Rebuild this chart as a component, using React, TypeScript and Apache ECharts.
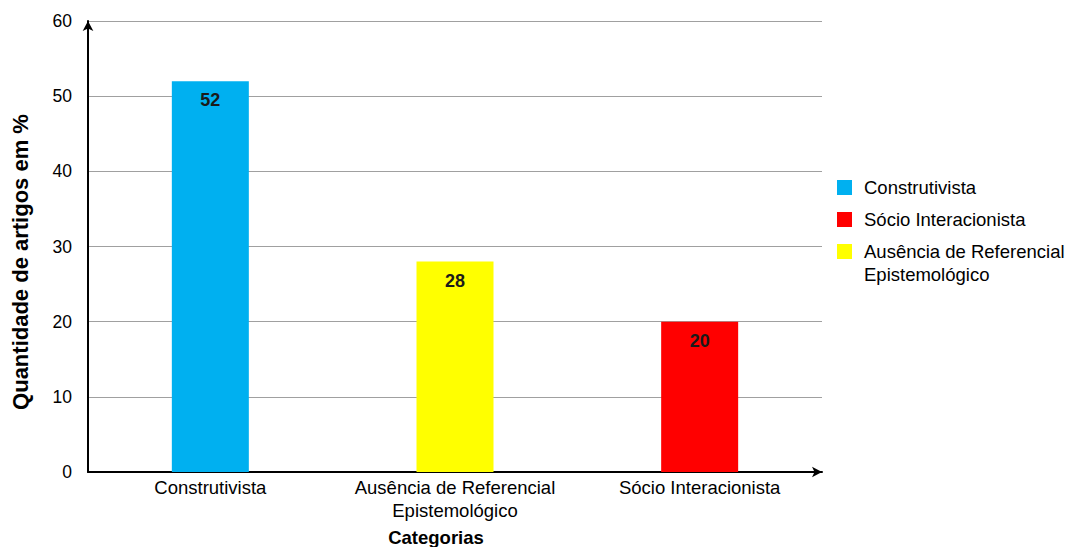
import React, { useEffect, useRef } from "react";
import * as echarts from "echarts";

// Categories along the x axis, with their percentage of articles
const categories = [
  "Construtivista",
  "Ausência de Referencial Epistemológico",
  "Sócio Interacionista",
];
const values = [52, 28, 20];
const colors = ["#00B0F0", "#FFFF00", "#FF0000"];

// Order in which the legend lists the categories
const legendOrder = [0, 2, 1];

const yTicks = { min: 0, max: 60, interval: 10 };

const FONT = "Liberation Sans, Arial, sans-serif";

const breakLabel = (s: string) => s.replace("Referencial ", "Referencial\n");

export default function App() {
  const ref = useRef<HTMLDivElement>(null);

  useEffect(() => {
    if (!ref.current) return;
    const chart = echarts.init(ref.current, null, { renderer: "svg" });

    const series = categories.map((name, i) => ({
      name,
      type: "bar",
      stack: "total",
      barWidth: 77,
      data: categories.map((_, j) => (j === i ? values[i] : "-")),
      itemStyle: { color: colors[i] },
      label: {
        show: true,
        position: "insideTop",
        distance: 10,
        color: "#1a1a1a",
        fontFamily: FONT,
        fontSize: 18,
        fontWeight: "bold",
      },
    }));

    // Legend: coloured squares with the category names beside them
    const legendCenters = [187, 219, 251];
    const legendItems: any[] = [];
    legendOrder.forEach((idx, k) => {
      legendItems.push({
        type: "rect",
        left: 837,
        top: legendCenters[k] - 7,
        shape: { width: 15, height: 15 },
        style: { fill: colors[idx] },
      });
      legendItems.push({
        type: "text",
        left: 864,
        top: legendCenters[k] - 11.5,
        style: {
          text: breakLabel(categories[idx]),
          font: `18.5px ${FONT}`,
          fill: "#000",
          lineHeight: 23,
        },
      });
    });

    chart.setOption({
      animation: false,
      grid: { left: 88, right: 251, top: 21, bottom: 75, containLabel: false },
      xAxis: {
        type: "category",
        data: categories,
        axisLine: {
          show: true,
          symbol: ["none", "arrow"],
          symbolSize: [8, 10],
          lineStyle: { color: "#000", width: 2 },
        },
        axisTick: { show: false },
        axisLabel: {
          interval: 0,
          margin: 4,
          color: "#000",
          fontFamily: FONT,
          fontSize: 18.5,
          lineHeight: 23,
          formatter: (v: string) => breakLabel(v),
        },
      },
      yAxis: {
        type: "value",
        min: yTicks.min,
        max: yTicks.max,
        interval: yTicks.interval,
        axisLine: {
          show: true,
          symbol: ["none", "arrow"],
          symbolSize: [8, 10],
          lineStyle: { color: "#000", width: 2 },
        },
        axisTick: { show: false },
        axisLabel: {
          margin: 16,
          color: "#000",
          fontFamily: FONT,
          fontSize: 17.5,
        },
        splitLine: { lineStyle: { color: "#a0a0a0", width: 1 } },
      },
      series,
      graphic: [
        {
          type: "text",
          x: 20,
          y: 262,
          rotation: Math.PI / 2,
          style: {
            text: "Quantidade de artigos em %",
            font: `bold 22px ${FONT}`,
            fill: "#000",
            align: "center",
            verticalAlign: "middle",
          },
        },
        {
          type: "text",
          x: 436,
          y: 537,
          style: {
            text: "Categorias",
            font: `bold 18.5px ${FONT}`,
            fill: "#000",
            align: "center",
            verticalAlign: "middle",
          },
        },
        ...legendItems,
      ],
    });

    return () => chart.dispose();
  }, []);

  return (
    <div
      ref={ref}
      style={{ position: "fixed", left: 0, top: 0, width: 1073, height: 547, background: "#fff" }}
    />
  );
}
